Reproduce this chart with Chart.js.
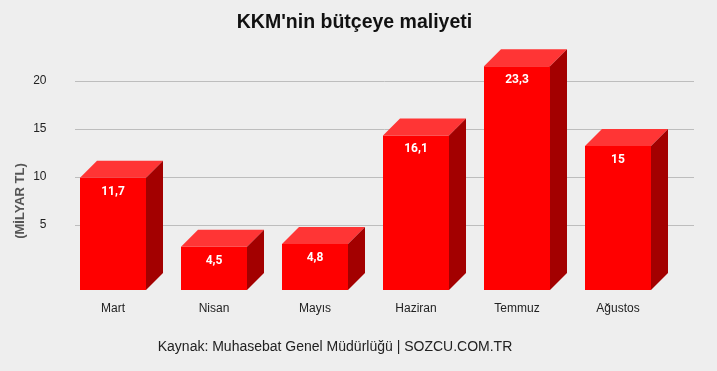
<!DOCTYPE html>
<html>
<head>
<meta charset="utf-8">
<script src="https://cdn.jsdelivr.net/npm/chart.js@4"></script>
<style>
  html, body { margin: 0; padding: 0; background: #eeeeee; }
  #wrap { width: 717px; height: 371px; position: relative; }
</style>
</head>
<body>
<div id="wrap"><canvas id="kkmChart" width="717" height="371"></canvas></div>
<script>
// --- veriler ---
const aylar = ['Mart', 'Nisan', 'Mayıs', 'Haziran', 'Temmuz', 'Ağustos'];
const maliyet = [11.7, 4.5, 4.8, 16.1, 23.3, 15];
const yTicks = [5, 10, 15, 20];

const baslik = "KKM'nin bütçeye maliyeti";
const eksenBaslik = '(MİLYAR TL)';
const kaynak = 'Kaynak: Muhasebat Genel Müdürlüğü | SOZCU.COM.TR';

// 3D derinlik (px)
const DERINLIK = 17;

const fmt = v => String(v).replace('.', ',');

// grid cizgileri arka duvarda, biraz daha genis
const gridPlugin = {
  id: 'arkaGrid',
  beforeDatasetsDraw(chart) {
    const { ctx, scales: { y } } = chart;
    ctx.save();
    ctx.strokeStyle = '#bdbdbd';
    ctx.lineWidth = 1;
    yTicks.forEach(t => {
      const py = Math.round(y.getPixelForValue(t)) + 0.5;
      ctx.beginPath();
      ctx.moveTo(75, py);
      ctx.lineTo(694, py);
      ctx.stroke();
    });
    ctx.restore();
  }
};

// on yuzler asagi kaydirilir, ust ve yan yuzler eklenir
const kutuPlugin = {
  id: 'kutu3d',
  beforeDatasetDraw(chart) {
    chart.ctx.save();
    chart.ctx.translate(0, DERINLIK);
  },
  afterDatasetDraw(chart, args) {
    const ctx = chart.ctx;
    const d = DERINLIK;
    args.meta.data.forEach((el, i) => {
      const L = el.x - el.width / 2;
      const R = el.x + el.width / 2;
      const top = el.y;
      const bot = el.base;

      // ust yuz
      ctx.fillStyle = '#ff3535';
      ctx.beginPath();
      ctx.moveTo(L, top);
      ctx.lineTo(L + d, top - d);
      ctx.lineTo(R + d, top - d);
      ctx.lineTo(R, top);
      ctx.closePath();
      ctx.fill();

      // yan yuz
      ctx.fillStyle = '#a30000';
      ctx.beginPath();
      ctx.moveTo(R, top);
      ctx.lineTo(R + d, top - d);
      ctx.lineTo(R + d, bot - d);
      ctx.lineTo(R, bot);
      ctx.closePath();
      ctx.fill();

      // deger etiketi
      ctx.fillStyle = '#ffffff';
      ctx.font = 'bold 12px Roboto';
      ctx.textAlign = 'center';
      ctx.textBaseline = 'middle';
      ctx.fillText(fmt(maliyet[i]), el.x, top + 14);
    });
    ctx.restore();
  }
};

// baslik, eksen basligi ve kaynak yazisi
const yaziPlugin = {
  id: 'yazilar',
  afterDraw(chart) {
    const ctx = chart.ctx;
    ctx.save();
    ctx.fillStyle = '#111111';
    ctx.font = 'bold 19.5px "Liberation Sans"';
    ctx.textAlign = 'center';
    ctx.textBaseline = 'middle';
    ctx.fillText(baslik, 354.5, 23);
    ctx.restore();

    ctx.save();
    ctx.translate(20, 201);
    ctx.rotate(-Math.PI / 2);
    ctx.fillStyle = '#555555';
    ctx.font = 'bold 13px "Liberation Sans"';
    ctx.textAlign = 'center';
    ctx.textBaseline = 'middle';
    ctx.fillText(eksenBaslik, 0, 0);
    ctx.restore();

    ctx.save();
    ctx.fillStyle = '#222222';
    ctx.font = '14px "Liberation Sans"';
    ctx.textAlign = 'center';
    ctx.textBaseline = 'middle';
    ctx.fillText(kaynak, 335, 347);
    ctx.restore();
  }
};

const ctx = document.getElementById('kkmChart').getContext('2d');
new Chart(ctx, {
  type: 'bar',
  data: {
    labels: aylar,
    datasets: [{
      data: maliyet,
      backgroundColor: '#ff0000',
      borderWidth: 0,
      barPercentage: 66 / 101,
      categoryPercentage: 1
    }]
  },
  options: {
    responsive: false,
    animation: false,
    layout: { padding: { left: 0, right: 48.5, top: 33, bottom: 27.6 } },
    plugins: {
      legend: { display: false },
      tooltip: { enabled: false },
      title: { display: false }
    },
    scales: {
      x: {
        grid: { display: false, drawTicks: false },
        border: { display: false },
        ticks: {
          color: '#222222',
          font: { family: 'Liberation Sans', size: 12 },
          padding: 28
        }
      },
      y: {
        min: 0,
        max: 25,
        grid: { display: false, drawTicks: false },
        border: { display: false },
        ticks: {
          stepSize: 5,
          color: '#222222',
          font: { family: 'Liberation Sans', size: 12 },
          padding: 16
        },
        afterBuildTicks(scale) {
          scale.ticks = yTicks.map(v => ({ value: v }));
        },
        afterFit(scale) {
          scale.width = 62.5;
        }
      }
    }
  },
  plugins: [gridPlugin, kutuPlugin, yaziPlugin]
});
</script>
</body>
</html>
